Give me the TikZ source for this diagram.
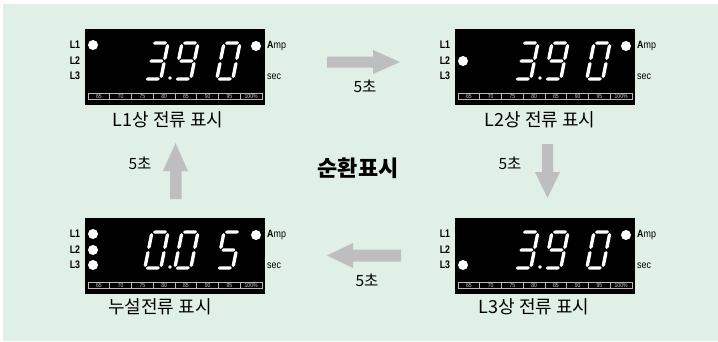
\documentclass[tikz,border=0pt]{standalone}
\usepackage{graphicx}
\usepackage{fontspec}
\setmainfont{Noto Sans CJK KR}
\newfontfamily\lat{Liberation Sans}
\definecolor{bg}{RGB}{225,240,230}
\definecolor{arrowgray}{RGB}{190,190,193}
\definecolor{bargray}{RGB}{185,185,185}
\definecolor{bartext}{RGB}{205,205,205}

\newcommand\hseg[2]{\fill[white] (#1,#2) -- ++(1.7,-1.7) -- ++(10.6,0) -- ++(1.7,1.7) -- ++(-1.7,1.7) -- ++(-10.6,0) -- cycle;}
\newcommand\vseg[2]{\fill[white] (#1,#2) -- ++(1.7,1.7) -- ++(0,12.6) -- ++(-1.7,1.7) -- ++(-1.7,-1.7) -- ++(0,-12.6) -- cycle;}
\newcommand\dsa{\hseg{1}{0}}
\newcommand\dsg{\hseg{1}{18}}
\newcommand\dsd{\hseg{1}{36}}
\newcommand\dsf{\vseg{0}{1}}
\newcommand\dsb{\vseg{16}{1}}
\newcommand\dse{\vseg{0}{19}}
\newcommand\dsc{\vseg{16}{19}}
\newcommand\digit[2]{\begin{scope}[shift={(#1,14)},xslant=0.2]#2\end{scope}}
\newcommand\three{\dsa\dsb\dsg\dsc\dsd}
\newcommand\nine{\dsa\dsb\dsc\dsd\dsf\dsg}
\newcommand\zero{\dsa\dsb\dsc\dsd\dse\dsf}
\newcommand\five{\dsa\dsf\dsg\dsc\dsd}

% #1 name, #2 x, #3 y, #4 list of lit indicator rows, #5 digits
\newcommand\panel[5]{%
\begin{scope}[shift={(#2,#3)}]
  \node[panelbox] (#1) at (90,38) {};
  \node[llab] (#1-l1) at (-10,16) {\scalebox{0.8}[1]{L1}};
  \node[llab] (#1-l2) at (-10,32) {\scalebox{0.8}[1]{L2}};
  \node[llab] (#1-l3) at (-10,47) {\scalebox{0.8}[1]{L3}};
  \foreach \yy in {#4} \fill[white] (8,\yy) circle[radius=5pt];
  \fill[white] (171,17) circle[radius=5pt];
  \node[unitlab] (#1-amp) at (182,17) {\scalebox{0.85}[1]{{\bfseries A}mp}};
  \node[unitlab] (#1-sec) at (182,48) {\scalebox{0.85}[1]{sec}};
  \draw[bargray, line width=0.6pt] (3,64) rectangle (177,70);
  \foreach \i in {1,...,7} \draw[bargray, line width=0.6pt] ({3+21.75*\i},64) -- ({3+21.75*\i},70);
  \foreach \lab [count=\i] in {65,70,75,80,85,90,95,100{\%}}
    \node[barlab] at ({3+21.75*(\i-0.5)},67) {\scalebox{0.85}[1]{\lab}};
  #5
  \fill[white] (85,49) circle[radius=1.9pt];
\end{scope}}

\begin{document}
\begin{tikzpicture}[x=1pt,y=-1pt,
  panelbox/.style={fill=black, draw=none, minimum width=180pt, minimum height=76pt, inner sep=0pt},
  llab/.style={font=\lat\bfseries\fontsize{11}{11}\selectfont, inner sep=0pt},
  unitlab/.style={font=\lat\fontsize{10.5}{11}\selectfont, anchor=west, inner sep=0pt},
  barlab/.style={font=\lat\fontsize{6}{6}\selectfont, text=bartext, inner sep=0pt},
  caption/.style={font=\fontsize{18}{21}\selectfont, inner sep=0pt},
  sec5/.style={font=\fontsize{15.5}{18}\selectfont, inner sep=0pt},
  blockarrow/.style={fill=arrowgray, draw=none}]
\useasboundingbox (0,0) rectangle (718,341);
\fill[bg] (3,4) rectangle (718,341);

\panel{p1}{85}{29}{16}{\digit{67}{\three}\digit{97}{\nine}\digit{139}{\zero}}
\panel{p2}{455}{29}{32}{\digit{67}{\three}\digit{97}{\nine}\digit{139}{\zero}}
\panel{p3}{85}{218}{16,32,47}{\digit{67}{\zero}\digit{97}{\zero}\digit{139}{\five}}
\panel{p4}{455}{218}{47}{\digit{67}{\three}\digit{97}{\nine}\digit{139}{\zero}}

\node[caption] (c1) at (168,120) {L1상 전류 표시};
\node[caption] (c2) at (540,120) {L2상 전류 표시};
\node[caption] (c3) at (160,307) {누설전류 표시};
\node[caption] (c4) at (534,307) {L3상 전류 표시};

\node[font=\bfseries\fontsize{22}{26}\selectfont, inner sep=0pt] (title) at (358,168) {순환표시};

% arrows
\fill[blockarrow] (327,56.5) -- (373,56.5) -- (373,50) -- (400,62) -- (373,74) -- (373,67.5) -- (327,67.5) -- cycle;
\fill[blockarrow] (401,249.5) -- (353,249.5) -- (353,243) -- (327,255.5) -- (353,268) -- (353,261.5) -- (401,261.5) -- cycle;
\fill[blockarrow] (170,199) -- (170,171) -- (163,171) -- (175.5,143) -- (188,171) -- (181.5,171) -- (181.5,199) -- cycle;
\fill[blockarrow] (542,144) -- (553,144) -- (553,172) -- (560,172) -- (547.5,198) -- (535,172) -- (542,172) -- cycle;

\node[sec5] (t1) at (365,86) {5초};
\node[sec5] (t2) at (140,163) {5초};
\node[sec5] (t3) at (510,163) {5초};
\node[sec5] (t4) at (367,280) {5초};
\end{tikzpicture}
\end{document}
